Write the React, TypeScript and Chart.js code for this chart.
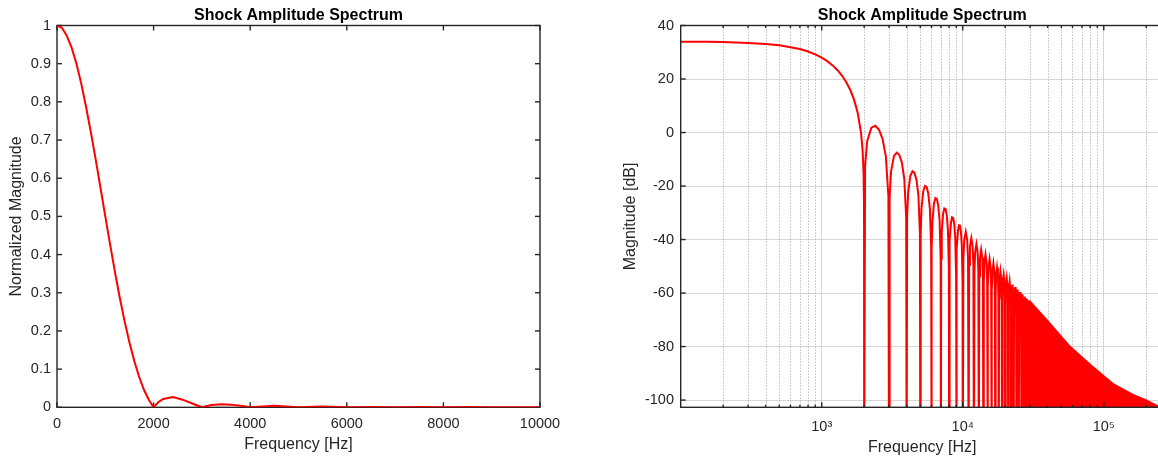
import React, { useEffect, useRef } from "react";
import { Chart, registerables } from "chart.js";

Chart.register(...registerables);

const FONT = '"Liberation Sans", Arial, Helvetica, sans-serif';
const TEXT = "#262626";
const RED = "#ff0000";
const TITLE = "Shock Amplitude Spectrum";

// ---------- Left panel: normalized magnitude (linear axes) ----------
const leftFreqHz = [
  0, 100, 200, 300, 400, 500, 600, 700, 800, 900, 1000, 1100, 1200, 1300, 1400, 1500, 1600, 1700, 1800, 1900, 2000,
  2100, 2200, 2400, 2600, 2800, 3000, 3200, 3400, 3600, 3800, 4000,
  4500, 5000, 5500, 6000, 6500, 7000, 7500, 8000, 8500, 9000, 9500, 10000,
];
const leftMagnitude = [
  1, 0.994, 0.974, 0.943, 0.901, 0.849, 0.788, 0.721, 0.65, 0.575, 0.5, 0.426, 0.354, 0.287, 0.225, 0.17, 0.121, 0.08, 0.046, 0.02, 0,
  0.014, 0.022, 0.027, 0.02, 0.01, 0, 0.006, 0.008, 0.007, 0.004, 0,
  0.004, 0, 0.002, 0, 0.001, 0, 0.0008, 0, 0.0005, 0, 0.0004, 0,
];
const leftXTicks = [0, 2000, 4000, 6000, 8000, 10000];
const leftXTickLabels = ["0", "2000", "4000", "6000", "8000", "10000"];
const leftYTicks = [0, 0.1, 0.2, 0.3, 0.4, 0.5, 0.6, 0.7, 0.8, 0.9, 1];
const leftYTickLabels = ["0", "0.1", "0.2", "0.3", "0.4", "0.5", "0.6", "0.7", "0.8", "0.9", "1"];

// ---------- Right panel: magnitude in dB (log frequency axis) ----------
const mainLobeFreqHz = [100, 150, 200, 300, 400, 500, 600, 700, 800, 900, 1000, 1100, 1200, 1300, 1400, 1500, 1600, 1700, 1800, 1900, 1950, 1980, 1995];
const mainLobeDb = [33.9, 33.9, 33.8, 33.5, 33.1, 32.6, 31.9, 31.2, 30.3, 29.2, 28.0, 26.6, 25.0, 23.2, 21.1, 18.6, 15.7, 12.1, 7.3, -0.1, -6.8, -15.2, -27.5];

const nearLobeFreqHz = [
  2000, 2030, 2100, 2250, 2400, 2550, 2700, 2850, 2970,
  3000, 3030, 3100, 3250, 3400, 3550, 3700, 3850, 3970,
  4000, 4030, 4100, 4250, 4400, 4550, 4700, 4850, 4970,
  5000, 5030, 5100, 5250, 5400, 5550, 5700, 5850, 5970,
  6000, 6030, 6100, 6250, 6400, 6550, 6700, 6850, 6970,
  7000, 7030, 7100, 7250, 7400, 7550, 7700, 7850, 7970,
  8000, 8030, 8100, 8250, 8400, 8550, 8700, 8850, 8970,
  9000, 9030, 9100, 9250, 9400, 9550, 9700, 9850, 9970,
  10000,
];
const nearLobeDb = [
  -130, -12.5, -3.2, 1.8, 2.5, 1.0, -2.4, -9.0, -23.8,
  -130, -24.4, -14.7, -8.8, -7.5, -8.4, -11.2, -17.3, -31.8,
  -130, -32.2, -22.4, -16.2, -14.5, -15.1, -17.7, -23.6, -37.9,
  -130, -38.2, -28.3, -21.8, -20.0, -20.4, -22.9, -28.6, -42.8,
  -130, -43.1, -33.0, -26.5, -24.5, -24.8, -27.2, -32.8, -46.9,
  -130, -47.1, -37.0, -30.4, -28.4, -28.6, -30.8, -36.4, -50.4,
  -130, -50.6, -40.5, -33.8, -31.7, -31.9, -34.0, -39.5, -53.5,
  -130, -53.7, -43.6, -36.8, -34.7, -34.8, -36.9, -42.3, -56.3,
  -130,
];

const farLobeNullHz = [
  10000, 11000, 12000, 13000, 14000, 15000, 16000, 17000, 18000, 19000, 20000,
  21000, 22000, 23000, 24000, 25000, 26000, 27000, 28000, 29000, 30000,
];
const farLobePeakHz = [
  10500, 11500, 12500, 13500, 14500, 15500, 16500, 17500, 18500, 19500,
  20500, 21500, 22500, 23500, 24500, 25500, 26500, 27500, 28500, 29500,
];
const farLobePeakDb = [
  -37.1, -39.5, -41.7, -43.7, -45.6, -47.3, -49.0, -50.5, -51.9, -53.2,
  -54.5, -55.7, -56.8, -57.8, -58.7, -59.6, -60.5, -61.3, -62.0, -62.7,
];
// lobe shape: distance inside the null (Hz) and drop under the lobe top (dB)
const farLobeShapeOffsetHz = [100, 250];
const farLobeShapeDropDb = [10, 3];
const NULL_DB = -130;

const envelopeFreqHz = [30000, 40000, 57400, 80000, 115800, 160000, 200000, 240000, 266000];
const envelopeDb = [-63.2, -70.5, -80.0, -86.8, -93.9, -98.0, -100.1, -102.3, -103.5];

const rightXTicks = [1000, 10000, 100000];
const rightXTickLabels = ["10³", "10⁴", "10⁵"];
const rightXMinor = [
  200, 300, 400, 500, 600, 700, 800, 900,
  2000, 3000, 4000, 5000, 6000, 7000, 8000, 9000,
  20000, 30000, 40000, 50000, 60000, 70000, 80000, 90000,
  200000,
];
const rightYTicks = [-100, -80, -60, -40, -20, 0, 20, 40];
const rightYTickLabels = ["-100", "-80", "-60", "-40", "-20", "0", "20", "40"];

// ---------- helpers ----------
type BoxOpts = {
  xTicks: number[];
  yTicks: number[];
  xMinor?: number[];
  minorGrid?: boolean;
  boxOnTop: boolean;
};

function drawBox(chart: any, o: BoxOpts) {
  const { ctx, chartArea: a, scales } = chart;
  const xs = scales.x;
  const ys = scales.y;
  ctx.save();
  ctx.strokeStyle = TEXT;
  ctx.lineWidth = 1.4;
  ctx.setLineDash([]);
  ctx.strokeRect(a.left, a.top, a.right - a.left, a.bottom - a.top);
  const seg = (x1: number, y1: number, x2: number, y2: number) => {
    ctx.beginPath();
    ctx.moveTo(x1, y1);
    ctx.lineTo(x2, y2);
    ctx.stroke();
  };
  const tl = 5;
  for (const v of o.xTicks) {
    const px = xs.getPixelForValue(v);
    seg(px, a.bottom, px, a.bottom - tl);
    seg(px, a.top, px, a.top + tl);
  }
  if (o.xMinor) {
    for (const v of o.xMinor) {
      const px = xs.getPixelForValue(v);
      if (px < a.left || px > a.right) continue;
      seg(px, a.bottom, px, a.bottom - 2.5);
      seg(px, a.top, px, a.top + 2.5);
    }
  }
  for (const v of o.yTicks) {
    const py = ys.getPixelForValue(v);
    seg(a.left, py, a.left + tl, py);
    seg(a.right, py, a.right - tl, py);
  }
  ctx.restore();
}

function axesBoxPlugin(id: string, o: BoxOpts) {
  return {
    id,
    beforeDatasetsDraw(chart: any) {
      const { ctx, chartArea: a, scales } = chart;
      if (o.minorGrid && o.xMinor) {
        ctx.save();
        ctx.strokeStyle = "#b5b5b5";
        ctx.lineWidth = 1;
        ctx.setLineDash([1.3, 1.7]);
        for (const f of o.xMinor) {
          const px = Math.round(scales.x.getPixelForValue(f)) + 0.5;
          if (px < a.left || px > a.right) continue;
          ctx.beginPath();
          ctx.moveTo(px, a.top);
          ctx.lineTo(px, a.bottom);
          ctx.stroke();
        }
        ctx.restore();
      }
      if (!o.boxOnTop) drawBox(chart, o);
    },
    afterDatasetsDraw(chart: any) {
      if (o.boxOnTop) drawBox(chart, o);
    },
  };
}

function labelFrom(values: number[], labels: string[]) {
  return (v: any) => {
    const n = Number(v);
    const i = values.findIndex((t) => Math.abs(t - n) < 1e-9 * Math.max(1, Math.abs(t)));
    return i >= 0 ? labels[i] : "";
  };
}

function setTicks(values: number[]) {
  return (axis: any) => {
    axis.ticks = values.map((v) => ({ value: v }));
  };
}

function leftConfig(): any {
  const pts = leftFreqHz.map((f, i) => ({ x: f, y: leftMagnitude[i] }));
  return {
    type: "line",
    data: {
      datasets: [
        {
          data: pts,
          borderColor: RED,
          backgroundColor: RED,
          borderWidth: 2,
          pointRadius: 0,
          tension: 0,
          fill: false,
        },
      ],
    },
    options: {
      responsive: false,
      animation: false,
      events: [],
      layout: { padding: { left: 0, right: 40, top: 0, bottom: 0 } },
      plugins: {
        legend: { display: false },
        tooltip: { enabled: false },
        title: {
          display: true,
          text: TITLE,
          fullSize: false,
          color: "#000",
          font: { family: FONT, size: 16, weight: "bold" },
          padding: { top: 6, bottom: 0.3 },
        },
      },
      scales: {
        x: {
          type: "linear",
          min: 0,
          max: 10000,
          afterBuildTicks: setTicks(leftXTicks),
          afterFit: (s: any) => {
            s.height = 52.7;
          },
          grid: { display: false, drawTicks: false },
          border: { display: false },
          ticks: {
            autoSkip: false,
            maxRotation: 0,
            padding: 8.2,
            color: TEXT,
            font: { family: FONT, size: 14.5 },
            callback: labelFrom(leftXTicks, leftXTickLabels),
          },
          title: {
            display: true,
            text: "Frequency [Hz]",
            color: TEXT,
            font: { family: FONT, size: 16 },
            padding: { top: 0, bottom: 6 },
          },
        },
        y: {
          type: "linear",
          min: 0,
          max: 1,
          afterBuildTicks: setTicks(leftYTicks),
          afterFit: (s: any) => {
            s.width = 57;
          },
          grid: { display: false, drawTicks: false },
          border: { display: false },
          ticks: {
            autoSkip: false,
            padding: 6,
            color: TEXT,
            font: { family: FONT, size: 14.5 },
            callback: labelFrom(leftYTicks, leftYTickLabels),
          },
          title: {
            display: true,
            text: "Normalized Magnitude",
            color: TEXT,
            font: { family: FONT, size: 16 },
            padding: { top: 7, bottom: 0 },
          },
        },
      },
    },
    plugins: [axesBoxPlugin("leftBox", { xTicks: leftXTicks, yTicks: leftYTicks, boxOnTop: false })],
  };
}

function rightConfig(): any {
  const mainPts = [
    ...mainLobeFreqHz.map((f, i) => ({ x: f, y: mainLobeDb[i] })),
    ...nearLobeFreqHz.map((f, i) => ({ x: f, y: nearLobeDb[i] })),
  ];
  const farPts: { x: number; y: number }[] = [];
  farLobePeakHz.forEach((peakHz, i) => {
    const lo = farLobeNullHz[i];
    const hi = farLobeNullHz[i + 1];
    const top = farLobePeakDb[i];
    farPts.push({ x: lo, y: NULL_DB });
    farLobeShapeOffsetHz.forEach((off, j) => farPts.push({ x: lo + off, y: top - farLobeShapeDropDb[j] }));
    farPts.push({ x: peakHz, y: top });
    for (let j = farLobeShapeOffsetHz.length - 1; j >= 0; j--) {
      farPts.push({ x: hi - farLobeShapeOffsetHz[j], y: top - farLobeShapeDropDb[j] });
    }
  });
  farPts.push({ x: farLobeNullHz[farLobeNullHz.length - 1], y: NULL_DB });
  const envPts = envelopeFreqHz.map((f, i) => ({ x: f, y: envelopeDb[i] }));
  const common = {
    borderColor: RED,
    backgroundColor: RED,
    borderWidth: 2,
    pointRadius: 0,
    tension: 0,
    clip: { left: 1, top: 1, right: 1, bottom: 0 },
  };
  return {
    type: "line",
    data: {
      datasets: [
        { ...common, data: mainPts, fill: false },
        { ...common, data: farPts, fill: false },
        { ...common, data: envPts, fill: "start" },
      ],
    },
    options: {
      responsive: false,
      animation: false,
      events: [],
      layout: { padding: { left: 0, right: 36.3, top: 0, bottom: 0 } },
      plugins: {
        legend: { display: false },
        tooltip: { enabled: false },
        title: {
          display: true,
          text: TITLE,
          fullSize: false,
          color: "#000",
          font: { family: FONT, size: 16, weight: "bold" },
          padding: { top: 6, bottom: 0.3 },
        },
      },
      scales: {
        x: {
          type: "logarithmic",
          min: 100,
          max: 266000,
          afterBuildTicks: setTicks(rightXTicks),
          afterFit: (s: any) => {
            s.height = 52.7;
          },
          grid: { display: true, drawTicks: false, color: "#d6d6d6", lineWidth: 1 },
          border: { display: false },
          ticks: {
            autoSkip: false,
            maxRotation: 0,
            padding: 10.7,
            color: TEXT,
            font: { family: FONT, size: 14.5 },
            callback: labelFrom(rightXTicks, rightXTickLabels),
          },
          title: {
            display: true,
            text: "Frequency [Hz]",
            color: TEXT,
            font: { family: FONT, size: 16 },
            padding: { top: 0, bottom: 2.5 },
          },
        },
        y: {
          type: "linear",
          min: -102.7,
          max: 40,
          afterBuildTicks: setTicks(rightYTicks),
          afterFit: (s: any) => {
            s.width = 100.7;
          },
          grid: { display: true, drawTicks: false, color: "#d6d6d6", lineWidth: 1 },
          border: { display: false },
          ticks: {
            autoSkip: false,
            padding: 6.7,
            color: TEXT,
            font: { family: FONT, size: 14.5 },
            callback: labelFrom(rightYTicks, rightYTickLabels),
          },
          title: {
            display: true,
            text: "Magnitude [dB]",
            color: TEXT,
            font: { family: FONT, size: 16 },
            padding: { top: 41.2, bottom: 0 },
          },
        },
      },
    },
    plugins: [
      axesBoxPlugin("rightBox", {
        xTicks: rightXTicks,
        yTicks: rightYTicks,
        xMinor: rightXMinor,
        minorGrid: true,
        boxOnTop: true,
      }),
    ],
  };
}

export default function App() {
  const leftRef = useRef<HTMLCanvasElement>(null);
  const rightRef = useRef<HTMLCanvasElement>(null);

  useEffect(() => {
    const c1 = new Chart(leftRef.current as HTMLCanvasElement, leftConfig());
    const c2 = new Chart(rightRef.current as HTMLCanvasElement, rightConfig());
    return () => {
      c1.destroy();
      c2.destroy();
    };
  }, []);

  return (
    <div
      style={{
        position: "fixed",
        left: 0,
        top: 0,
        width: 1158,
        height: 460,
        overflow: "hidden",
        background: "#fff",
      }}
    >
      <canvas ref={leftRef} width={580} height={460} style={{ position: "absolute", left: 0, top: 0 }} />
      <canvas ref={rightRef} width={620} height={460} style={{ position: "absolute", left: 580, top: 0 }} />
    </div>
  );
}
